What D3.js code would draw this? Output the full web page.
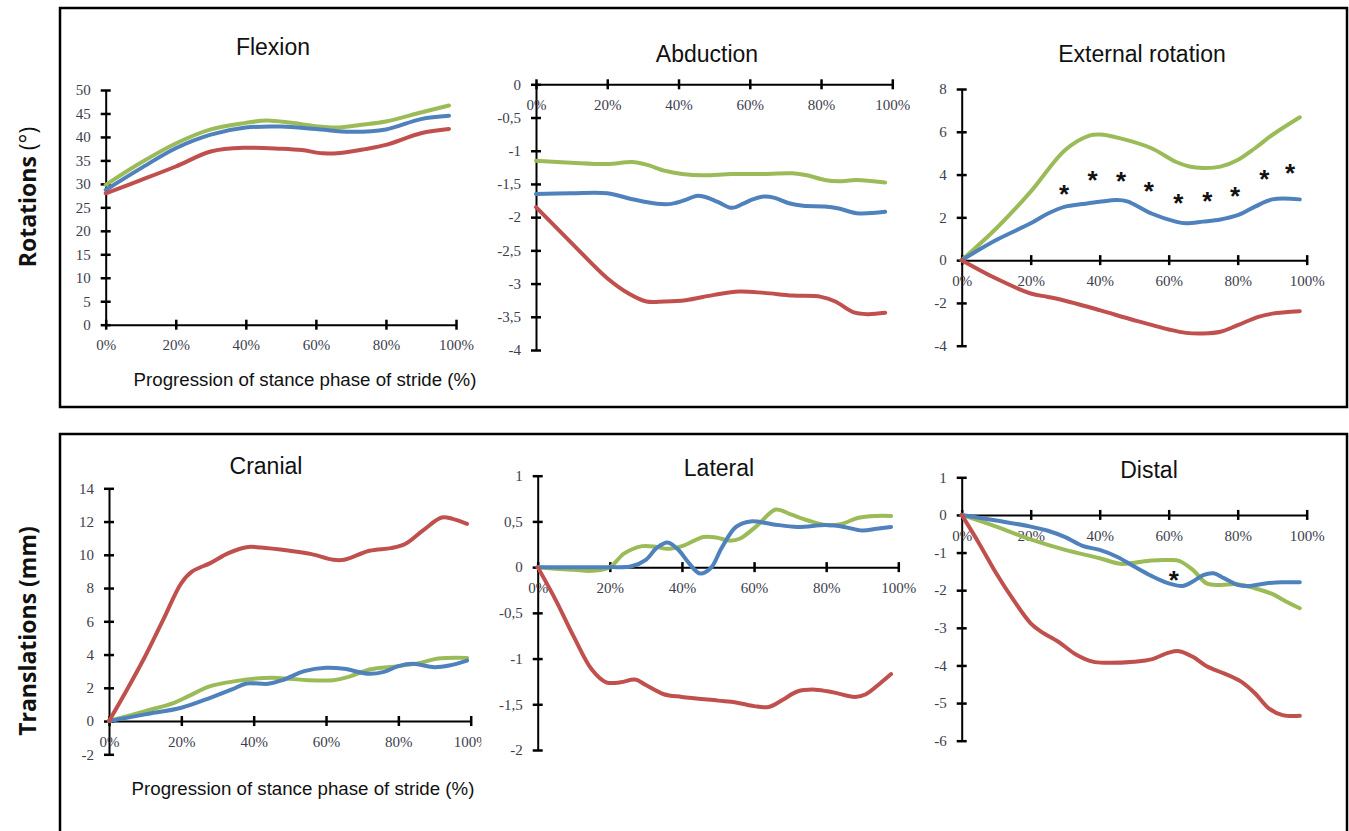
<!DOCTYPE html>
<html>
<head>
<meta charset="utf-8">
<script src="https://cdn.jsdelivr.net/npm/d3@7"></script>
<style>
  body { margin: 0; background: #fff; }
  svg { display: block; }
  .tick text { font-family: "Liberation Serif", serif; font-size: 15px; fill: #3d3d4d; }
  .title { font-family: "Liberation Sans", Arial, sans-serif; font-size: 23px; fill: #111; }
  .xtitle { font-family: "Liberation Sans", Arial, sans-serif; font-size: 18.7px; fill: #111; }
  .ylab { font-family: "Open Sans", sans-serif; font-size: 23px; font-weight: bold; fill: #111; }
  .star { font-family: "Liberation Sans", Arial, sans-serif; font-size: 26px; font-weight: bold; fill: #111; }
</style>
</head>
<body>
<div id="chart"></div>
<script>
// ---- data (percent of stance, value) ----
var flexGreen = [[0,29.8],[10,34.5],[20,38.6],[30,41.6],[40,43.0],[46,43.5],[53,43.0],[60,42.3],[66,42.0],[73,42.6],[80,43.3],[90,45.2],[98,46.7]];
var flexBlue  = [[0,28.7],[10,33.3],[20,37.6],[30,40.5],[40,42.0],[50,42.2],[60,41.7],[70,41.1],[80,41.6],[90,43.8],[98,44.5]];
var flexRed   = [[0,28.0],[10,30.8],[20,33.7],[30,36.9],[40,37.7],[50,37.5],[56,37.2],[62,36.5],[67,36.6],[74,37.4],[80,38.3],[90,40.8],[98,41.7]];

var abdGreen = [[0,-1.15],[10,-1.18],[20,-1.20],[27,-1.17],[31,-1.21],[36,-1.30],[41,-1.35],[47,-1.37],[55,-1.35],[65,-1.35],[72,-1.34],[76,-1.37],[81,-1.44],[85,-1.46],[90,-1.44],[98,-1.48]];
var abdBlue  = [[0,-1.65],[10,-1.64],[20,-1.64],[27,-1.73],[34,-1.80],[38,-1.80],[42,-1.74],[45,-1.68],[47,-1.69],[51,-1.77],[55,-1.86],[58,-1.80],[61,-1.73],[64,-1.69],[67,-1.71],[71,-1.79],[75,-1.83],[81,-1.84],[85,-1.87],[90,-1.94],[98,-1.92]];
var abdRed   = [[0,-1.85],[10,-2.39],[20,-2.92],[26,-3.15],[31,-3.27],[36,-3.27],[42,-3.25],[50,-3.17],[57,-3.12],[64,-3.14],[72,-3.18],[80,-3.20],[84,-3.27],[89,-3.43],[93,-3.46],[98,-3.44]];

var extGreen = [[0,0],[10,1.48],[20,3.2],[30,5.15],[37,5.82],[40,5.87],[46,5.69],[55,5.23],[62,4.6],[66,4.38],[70,4.31],[75,4.37],[80,4.68],[85,5.23],[90,5.85],[98,6.68]];
var extBlue  = [[0,0],[10,0.94],[20,1.72],[25,2.18],[30,2.5],[35,2.62],[40,2.73],[45,2.81],[48,2.75],[55,2.18],[62,1.8],[65,1.72],[70,1.8],[75,1.9],[80,2.1],[85,2.5],[90,2.84],[98,2.84]];
var extRed   = [[0,0],[10,-0.86],[20,-1.56],[25,-1.72],[30,-1.90],[40,-2.34],[50,-2.81],[60,-3.24],[65,-3.40],[70,-3.43],[75,-3.35],[80,-3.04],[86,-2.65],[90,-2.5],[98,-2.39]];
var extStars = [[29.7,3.31],[37.9,3.98],[46.2,3.93],[54.2,3.46],[62.8,2.87],[71.2,2.99],[79.2,3.21],[87.7,3.99],[95.2,4.29]];

var cranRed   = [[0,0],[5,1.9],[10,3.9],[15,6.1],[20,8.3],[23,9.0],[28,9.5],[33,10.1],[38,10.46],[42,10.44],[50,10.24],[56,10.04],[62,9.7],[65,9.7],[72,10.24],[78,10.4],[82,10.66],[87,11.5],[92,12.24],[95,12.16],[99,11.86]];
var cranGreen = [[0,0],[10,0.6],[18,1.1],[22,1.5],[28,2.1],[35,2.4],[40,2.54],[45,2.6],[50,2.54],[55,2.46],[62,2.46],[66,2.64],[72,3.1],[80,3.3],[86,3.5],[91,3.76],[99,3.8]];
var cranBlue  = [[0,0],[10,0.4],[20,0.8],[28,1.4],[34,1.9],[38,2.26],[44,2.24],[48,2.46],[54,3.0],[60,3.2],[65,3.14],[72,2.84],[76,2.96],[80,3.3],[84,3.44],[90,3.24],[94,3.34],[99,3.64]];

var latGreen = [[0,0],[10,-0.03],[15,-0.04],[20,0],[24,0.15],[29,0.23],[33,0.22],[36,0.2],[40,0.23],[46,0.33],[50,0.32],[53,0.29],[56,0.31],[61,0.46],[66,0.63],[70,0.58],[75,0.51],[80,0.46],[84,0.47],[89,0.54],[94,0.56],[98,0.56]];
var latBlue  = [[0,0],[10,0],[20,0],[26,0.01],[30,0.08],[33,0.21],[36,0.27],[39,0.19],[42,0.04],[45,-0.07],[48,-0.01],[51,0.21],[55,0.44],[59,0.5],[65,0.47],[72,0.44],[80,0.46],[85,0.44],[90,0.4],[94,0.42],[98,0.44]];
var latRed   = [[0,0],[5,-0.36],[10,-0.76],[15,-1.12],[19,-1.26],[23,-1.26],[27,-1.23],[30,-1.29],[35,-1.39],[40,-1.42],[50,-1.46],[55,-1.48],[60,-1.52],[64,-1.53],[68,-1.45],[72,-1.36],[77,-1.34],[82,-1.37],[88,-1.42],[91,-1.39],[95,-1.27],[98,-1.17]];

var distGreen = [[0,0],[10,-0.31],[20,-0.65],[30,-0.93],[40,-1.15],[46,-1.30],[50,-1.27],[55,-1.21],[60,-1.2],[63,-1.22],[67,-1.46],[71,-1.82],[75,-1.86],[80,-1.84],[85,-1.95],[90,-2.1],[94,-2.3],[98,-2.48]];
var distBlue  = [[0,0],[10,-0.15],[20,-0.31],[25,-0.42],[30,-0.59],[35,-0.82],[40,-0.93],[45,-1.11],[50,-1.37],[55,-1.62],[60,-1.82],[64,-1.89],[67,-1.77],[70,-1.6],[73,-1.55],[76,-1.68],[80,-1.86],[83,-1.89],[88,-1.82],[93,-1.79],[98,-1.79]];
var distRed   = [[0,0],[5,-0.75],[10,-1.55],[15,-2.26],[20,-2.88],[23,-3.1],[28,-3.37],[33,-3.7],[38,-3.9],[42,-3.93],[50,-3.9],[55,-3.84],[60,-3.66],[63,-3.62],[67,-3.77],[71,-4.02],[76,-4.21],[81,-4.43],[85,-4.74],[89,-5.14],[93,-5.32],[98,-5.34]];
var distStars = [[61.5,-1.62]];

var xTicks = [0,20,40,60,80,100];
var titles = ["Flexion","Abduction","External rotation","Cranial","Lateral","Distal"];
var yDomains = [[0,50],[-4,0],[-4,8],[-2,14],[-2,1],[-6,1]];
var yTickSteps = [5,0.5,2,2,0.5,1];
var green = "#9bbb59", blue = "#4f81bd", red = "#c0504d";

// ---- layout (pixels) ----
var W = 1349, H = 831;
var boxes = [[60,8,1347,407],[60,434,1347,840]];
var panels = [
  {x0:105.7, x1:456,   yTop:90,    yBot:324.7, tx:273,  ty:55,  xtitle:[305,386], series:[flexGreen,flexBlue,flexRed]},
  {x0:536,   x1:892.3, yTop:84.3,  yBot:350,   tx:707,  ty:62,  series:[abdGreen,abdBlue,abdRed]},
  {x0:961.7, x1:1306.7,yTop:89,    yBot:345.7, tx:1142, ty:62,  series:[extGreen,extBlue,extRed], stars:extStars},
  {x0:109,   x1:470.7, yTop:488.3, yBot:754.3, tx:266,  ty:474, xtitle:[303,795], series:[cranGreen,cranBlue,cranRed], clip:481.5},
  {x0:537.7, x1:898.3, yTop:475.7, yBot:750,   tx:719,  ty:476, series:[latGreen,latBlue,latRed]},
  {x0:961.7, x1:1306.7,yTop:477.3, yBot:740.7, tx:1149, ty:478, series:[distGreen,distBlue,distRed], stars:distStars}
];

var svg = d3.select("#chart").append("svg").attr("width", W).attr("height", H);

svg.selectAll("rect.box").data(boxes).enter().append("rect")
  .attr("x", d => d[0]).attr("y", d => d[1])
  .attr("width", d => d[2] - d[0]).attr("height", d => d[3] - d[1])
  .attr("fill", "none").attr("stroke", "#000").attr("stroke-width", 2.5);

var yl1 = svg.append("text").attr("class", "ylab")
  .attr("transform", "translate(36,197) rotate(-90)")
  .attr("text-anchor", "middle");
yl1.append("tspan").text("Rotations ");
yl1.append("tspan").attr("font-weight", "normal").text("(°)");
svg.append("text").attr("class", "ylab")
  .attr("transform", "translate(36,631) rotate(-90)")
  .attr("text-anchor", "middle")
  .text("Translations (mm)");

var fmt = v => String(+v.toFixed(1)).replace(".", ",");

panels.forEach(function(p, i) {
  var g = svg.append("g");
  if (p.clip) {
    svg.append("clipPath").attr("id", "clip" + i).append("rect")
      .attr("x", 0).attr("y", 0).attr("width", p.clip).attr("height", H);
    g.attr("clip-path", "url(#clip" + i + ")");
  }
  var x = d3.scaleLinear().domain([0, 100]).range([p.x0, p.x1]);
  var y = d3.scaleLinear().domain(yDomains[i]).range([p.yBot, p.yTop]);
  var yt = d3.range(yDomains[i][0], yDomains[i][1] + 1e-9, yTickSteps[i]);

  g.append("text").attr("class", "title").attr("x", p.tx).attr("y", p.ty)
    .attr("text-anchor", "middle").text(titles[i]);

  // y axis with ticks crossing the line
  var ya = g.append("g").attr("transform", "translate(" + p.x0 + ",0)")
    .call(d3.axisLeft(y).tickValues(yt).tickFormat(fmt).tickSizeOuter(0).tickSizeInner(5).tickPadding(10));
  ya.select(".domain").attr("stroke", "#000").attr("stroke-width", 2);
  ya.selectAll(".tick line").attr("x1", -5).attr("x2", 5).attr("stroke", "#000").attr("stroke-width", 2.5);

  // x axis at zero
  var xa = g.append("g").attr("transform", "translate(0," + y(0) + ")")
    .call(d3.axisBottom(x).tickValues(xTicks).tickFormat(d => d + "%").tickSizeOuter(0).tickSizeInner(5).tickPadding(10));
  xa.select(".domain").attr("stroke", "#000").attr("stroke-width", 2);
  xa.selectAll(".tick line").attr("y1", -5).attr("y2", 5).attr("stroke", "#000").attr("stroke-width", 2.5);

  var line = d3.line().x(d => x(d[0])).y(d => y(d[1])).curve(d3.curveCatmullRom.alpha(0.5));
  var colors = [green, blue, red];
  p.series.forEach(function(s, k) {
    g.append("path").datum(s).attr("d", line)
      .attr("fill", "none").attr("stroke", colors[k]).attr("stroke-width", 4)
      .attr("stroke-linejoin", "round").attr("stroke-linecap", "round");
  });

  if (p.stars) {
    g.selectAll("text.star").data(p.stars).enter().append("text")
      .attr("class", "star").attr("text-anchor", "middle")
      .attr("x", d => x(d[0])).attr("y", d => y(d[1])).attr("dy", "0.52em")
      .text("*");
  }

  if (p.xtitle) {
    svg.append("text").attr("class", "xtitle")
      .attr("x", p.xtitle[0]).attr("y", p.xtitle[1]).attr("text-anchor", "middle")
      .text("Progression of stance phase of stride (%)");
  }
});
</script>
</body>
</html>
